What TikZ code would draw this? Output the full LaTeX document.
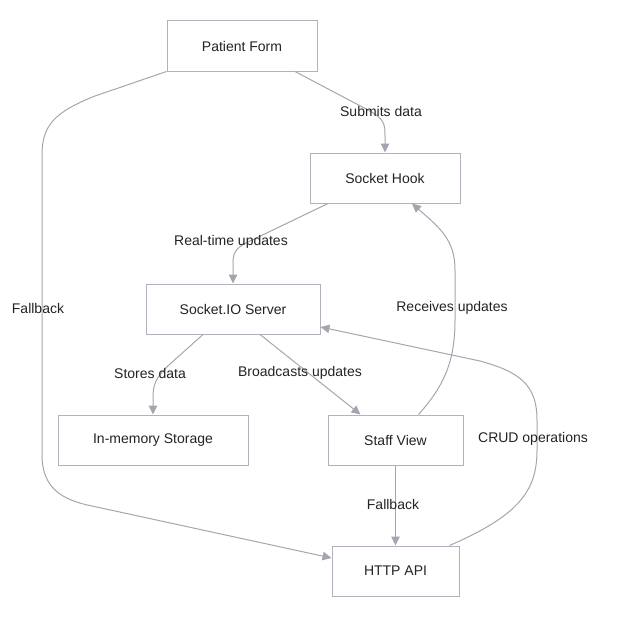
\documentclass[tikz,border=0pt]{standalone}
\usepackage{fontspec}
\setmainfont{Liberation Sans}
\usetikzlibrary{arrows.meta,calc}
\definecolor{edgecol}{RGB}{165,165,175}
\definecolor{boxcol}{RGB}{178,178,188}
\definecolor{txtcol}{RGB}{35,35,35}
\tikzset{
  box/.style={draw=boxcol, line width=1pt, fill=white, minimum height=50pt, inner sep=0pt, text=txtcol, font=\fontsize{14}{16}\selectfont},
  conn/.style={draw=edgecol, line width=1pt, -{Triangle[length=9pt,width=8.5pt]}},
  lbl/.style={text=txtcol, font=\fontsize{14}{16}\selectfont, inner sep=1pt}
}
\begin{document}
\begin{tikzpicture}[x=1pt,y=-1pt]
\useasboundingbox (0,0) rectangle (618,618);
\node[box, minimum width=150pt] (pf) at (242,46) {Patient Form};
\node[box, minimum width=150pt] (sh) at (385,178) {Socket Hook};
\node[box, minimum width=174pt] (ss) at (233,309) {Socket.IO Server};
\node[box, minimum width=190pt] (ims) at (153,440) {In-memory Storage};
\node[box, minimum width=135pt] (sv) at (395.5,440) {Staff View};
\node[box, minimum width=127pt] (ha) at (395.5,571) {HTTP API};

% Patient Form -> Socket Hook
\draw[conn] ([xshift=53pt]pf.south) -- (368,110) .. controls (385,119) and (385,125) .. (385,136) -- (sh.north);
% Socket Hook -> Socket.IO
\draw[conn] ([xshift=-57pt]sh.south) -- (248,242) .. controls (233,249) and (233,255) .. (233,266) -- (ss.north);
% Socket.IO -> In-memory
\draw[conn] ([xshift=-30pt]ss.south) -- (170,364) .. controls (155,378) and (153,385) .. (153,398) -- (ims.north);
% Socket.IO -> Staff View
\draw[conn] ([xshift=27pt]ss.south) -- ([xshift=-35pt]sv.north);
% Staff View -> Socket Hook
\draw[conn] ([xshift=23pt]sv.north) .. controls (445,385) and (455,360) .. (455,320) -- (455,270) .. controls (455,240) and (440,228) .. ([xshift=27pt]sh.south);
% Staff View -> HTTP API
\draw[conn] (sv.south) -- (ha.north);
% Patient Form -> HTTP API
\draw[conn] (pf.south west) -- (95,96) .. controls (55,112) and (42,125) .. (42,155) -- (42,455) .. controls (42,488) and (62,500) .. (92,506) -- ([yshift=13pt]ha.west);
% HTTP API -> Socket.IO
\draw[conn] ([xshift=54pt]ha.north) .. controls (520,515) and (537,490) .. (537,450) -- (537,420) .. controls (537,385) and (520,372) .. (480,361) -- ([yshift=-18pt]ss.east);

% labels
\node[lbl] (l1) at (381,111) {Submits data};
\node[lbl] (l2) at (231,242) {Real-time updates};
\node[lbl] (l3) at (150,373) {Stores data};
\node[lbl] (l4) at (300,373) {Broadcasts updates};
\node[lbl] (l5) at (452,308) {Receives updates};
\node[lbl] (l6) at (393,504) {Fallback};
\node[lbl] (l7) at (38,308) {Fallback};
\node[lbl] (l8) at (533,439) {CRUD operations};
\end{tikzpicture}
\end{document}
